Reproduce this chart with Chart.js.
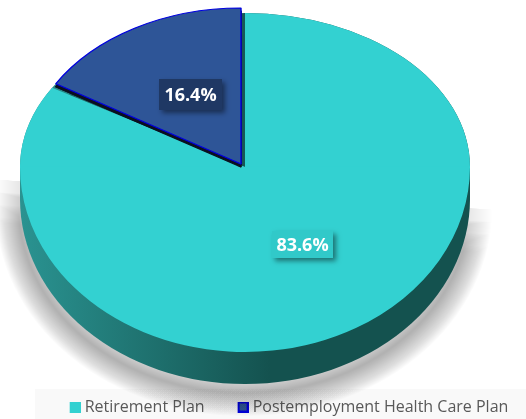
<!DOCTYPE html>
<html>
<head>
<meta charset="utf-8">
<style>
  html, body { margin: 0; background: #fff; }
  canvas { display: block; }
</style>
<script src="https://cdn.jsdelivr.net/npm/chart.js@4/dist/chart.umd.min.js"></script>
</head>
<body>
<canvas id="pie" width="526" height="419"></canvas>
<script>
const categories = ['Retirement Plan', 'Postemployment Health Care Plan']
const shares = [83.6, 16.4]
const sliceColors = ['#33d1d1', '#2e5597']
const edgeColors = ['#33d1d1', '#0000e0']
const edgeWidths = [0, 1.2]

// The reference pie is tilted, so its apex sits above the middle of the ellipse.
// Each half of a slice gets its own vertical squash to get that look.
const tilt = [
  { cx: 245, cy: 167, rx: 225, up: 154, down: 185 },
  { cx: 241, cy: 164, rx: 216, up: 156, down: 156 },
]
const DEPTH = 32

function drawHalf(ctx, arc, t, upper) {
  const R = arc.outerRadius
  ctx.save()
  ctx.beginPath()
  if (upper) ctx.rect(0, 0, 526, t.cy + 0.5)
  else ctx.rect(0, t.cy - 0.5, 526, 419)
  ctx.clip()
  ctx.translate(t.cx, t.cy)
  ctx.scale(t.rx / R, (upper ? t.up : t.down) / R)
  ctx.translate(-arc.x, -arc.y)
  arc.draw(ctx)
  ctx.restore()
}

function drawSlice(ctx, arc, t) {
  drawHalf(ctx, arc, t, true)
  drawHalf(ctx, arc, t, false)
}

function wallPath(ctx, t) {
  ctx.beginPath()
  ctx.ellipse(t.cx, t.cy + DEPTH, t.rx, t.down, 0, 0, Math.PI)
  ctx.lineTo(t.cx - t.rx, t.cy)
  ctx.ellipse(t.cx, t.cy, t.rx, t.up, 0, Math.PI, Math.PI * 2)
  ctx.lineTo(t.cx + t.rx, t.cy + DEPTH)
  ctx.closePath()
}

// side wall of the pie. The soft shadow is stacked strokes that fade outwards,
// and a slanted gradient fades them out towards the upper half of the pie.
function drawWall(ctx, t) {
  const fade = ctx.createLinearGradient(10, 165, 7, 215)
  fade.addColorStop(0, 'rgba(0,0,0,0)')
  fade.addColorStop(1, 'rgba(0,0,0,0.016)')
  ctx.save()
  ctx.translate(-1, 9)
  ctx.strokeStyle = fade
  for (let w = 46; w > 0; w -= 2) {
    ctx.lineWidth = w
    wallPath(ctx, t)
    ctx.stroke()
  }
  ctx.restore()

  const grad = ctx.createLinearGradient(20, 0, 270, 0)
  grad.addColorStop(0, '#2a9391')
  grad.addColorStop(1, '#14524f')
  ctx.fillStyle = grad
  wallPath(ctx, t)
  ctx.fill()
}

function drawBadge(ctx, text, x, y, w, h, fill) {
  ctx.save()
  ctx.shadowColor = 'rgba(0,0,0,0.45)'
  ctx.shadowBlur = 5
  ctx.shadowOffsetX = 3
  ctx.shadowOffsetY = 3
  ctx.fillStyle = fill
  ctx.fillRect(x, y, w, h)
  ctx.restore()
  ctx.fillStyle = '#fff'
  ctx.font = 'bold 18px "Open Sans"'
  ctx.textAlign = 'center'
  ctx.textBaseline = 'middle'
  ctx.fillText(text, x + w / 2, y + h / 2 + 1)
}

function drawUnderside(ctx, arc) {
  const orig = arc.options
  arc.options = { ...orig, backgroundColor: '#0b1020', borderColor: '#0b1020' }
  drawSlice(ctx, arc, { ...tilt[1], cy: tilt[1].cy + 3 })
  arc.options = orig
}

const pie3d = {
  id: 'pie3d',
  // labels.padding also sets the item gap, so the legend box is moved by hand after layout
  afterLayout(chart) {
    const legend = chart.legend
    const h = legend.bottom - legend.top
    legend.top = 370
    legend.bottom = legend.top + h
    legend.left = 24
    legend.right = 550
  },
  beforeDraw(chart) {
    const ctx = chart.ctx
    ctx.fillStyle = '#f9f9f9'
    ctx.fillRect(35, 389, 491, 30)
  },
  beforeDatasetDraw(chart, args) {
    const ctx = chart.ctx
    const [big, small] = args.meta.data
    drawWall(ctx, tilt[0])

    // only the shadow of this pass stays visible, in the gap next to the big slice
    ctx.save()
    ctx.shadowColor = 'rgba(0,0,0,0.2)'
    ctx.shadowBlur = 2
    ctx.shadowOffsetY = 24
    drawUnderside(ctx, small)
    ctx.restore()

    drawSlice(ctx, big, tilt[0])
    drawUnderside(ctx, small)
    drawSlice(ctx, small, tilt[1])

    drawBadge(ctx, shares[1].toFixed(1) + '%', 159, 79, 63, 31, '#1f3864')
    drawBadge(ctx, shares[0].toFixed(1) + '%', 272, 231, 61, 27, '#31c9c9')
    return false
  },
}

// swatch canvas carries blank space on its left, it pulls the square closer to the text
function swatch(i) {
  const c = document.createElement('canvas')
  c.width = 19
  c.height = 11
  const g = c.getContext('2d')
  g.fillStyle = sliceColors[i]
  g.fillRect(8, 0, 11, 11)
  if (edgeWidths[i] > 0) {
    g.strokeStyle = edgeColors[i]
    g.lineWidth = 2
    g.strokeRect(9, 1, 9, 9)
  }
  return c
}

new Chart(document.getElementById('pie'), {
  type: 'pie',
  data: {
    labels: categories,
    datasets: [{
      data: shares,
      backgroundColor: sliceColors,
      borderColor: edgeColors,
      borderWidth: edgeWidths,
    }],
  },
  options: {
    responsive: false,
    animation: false,
    plugins: {
      tooltip: { enabled: false },
      legend: {
        position: 'bottom',
        labels: {
          usePointStyle: true,
          boxWidth: 11,
          padding: 29,
          color: '#595959',
          font: { family: '"Open Sans"', size: 16 },
          generateLabels: () => categories.map((text, i) => ({
            text,
            index: i,
            hidden: false,
            fontColor: '#595959',
            pointStyle: swatch(i),
            lineWidth: 0,
          })),
        },
      },
    },
  },
  plugins: [pie3d],
})
</script>
</body>
</html>
